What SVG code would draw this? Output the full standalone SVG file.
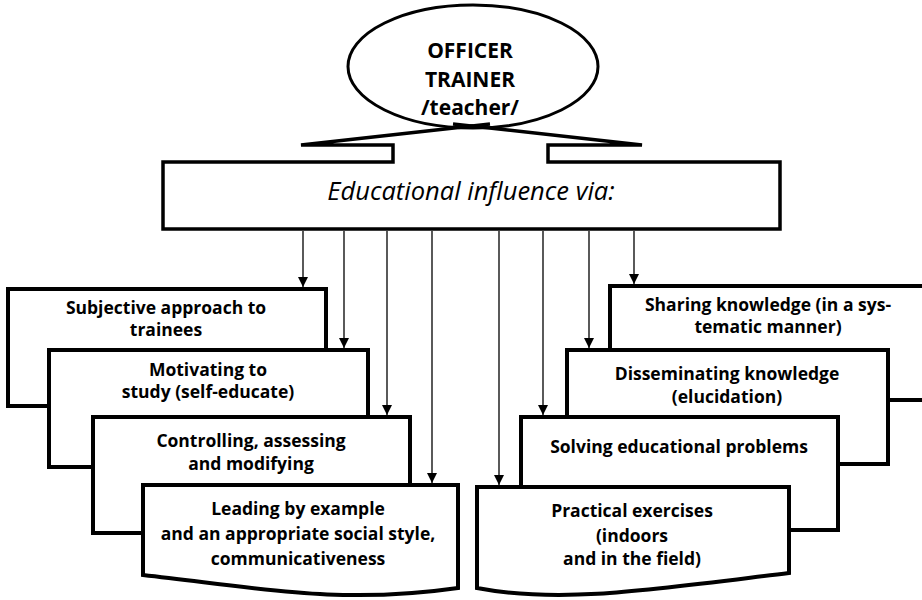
<svg xmlns="http://www.w3.org/2000/svg" width="922" height="600" viewBox="0 0 922 600">
  <defs>
    <marker id="arrow" viewBox="0 0 10 10" refX="10" refY="5" markerWidth="10" markerHeight="10" markerUnits="userSpaceOnUse" orient="auto">
      <path d="M0,0 L10,5 L0,10 Z" fill="#000"/>
    </marker>
    <style>
      .box { fill: #fff; stroke: #000; stroke-width: 4; stroke-linejoin: miter; }
      .outline { fill: none; stroke: #000; stroke-width: 3.5; stroke-linejoin: miter; }
      .conn { stroke: #000; stroke-width: 1.3; fill: none; marker-end: url(#arrow); }
      .lbl { font-family: "Open Sans", Lato, "Liberation Sans", sans-serif; font-weight: bold; font-size: 17.5px; fill: #000; text-anchor: middle; }
      .head { font-family: "Open Sans", Lato, "Liberation Sans", sans-serif; font-weight: bold; font-size: 21px; fill: #000; text-anchor: middle; }
      .via { font-family: "Open Sans", Lato, "Liberation Sans", sans-serif; font-style: italic; font-size: 25.5px; fill: #000; text-anchor: middle; }
    </style>
  </defs>
  <rect width="922" height="600" fill="#fff"/>

  <!-- callout: trainer ellipse with wedge onto the influence bar -->
  <g id="trainer">
    <path class="outline" d="M490,124 L301,145 H393 V162 H163 V229 H780 V162 H548 V145 H642 L453,124"/>
    <ellipse cx="473" cy="66.5" rx="125" ry="61.5" fill="none" stroke="#000" stroke-width="3"/>
    <text class="head" x="470" y="58">OFFICER</text>
    <text class="head" x="470" y="87">TRAINER</text>
    <text class="head" x="470" y="115">/teacher/</text>
  </g>

  <g id="influence">
    <text class="via" x="471" y="200">Educational influence via:</text>
  </g>

  <!-- left stack -->
  <g id="subjective">
    <rect class="box" x="8" y="289" width="318" height="117"/>
    <text class="lbl" x="166" y="314">Subjective approach to</text>
    <text class="lbl" x="166" y="336">trainees</text>
  </g>
  <g id="motivating">
    <rect class="box" x="49" y="350" width="319" height="117"/>
    <text class="lbl" x="208" y="376">Motivating to</text>
    <text class="lbl" x="208" y="398">study (self-educate)</text>
  </g>
  <g id="controlling">
    <rect class="box" x="93" y="417" width="317" height="116"/>
    <text class="lbl" x="251" y="447">Controlling, assessing</text>
    <text class="lbl" x="251" y="470">and modifying</text>
  </g>
  <g id="leading">
    <path class="box" d="M143,485 H458 V588 C340,605 260,588 143,575 Z"/>
    <text class="lbl" x="298" y="515">Leading by example</text>
    <text class="lbl" x="298" y="540">and an appropriate social style,</text>
    <text class="lbl" x="298" y="565">communicativeness</text>
  </g>

  <!-- right stack -->
  <g id="sharing">
    <rect class="box" x="610" y="286" width="330" height="114"/>
    <text class="lbl" x="768" y="311">Sharing knowledge (in a sys-</text>
    <text class="lbl" x="768" y="333">tematic manner)</text>
  </g>
  <g id="disseminating">
    <rect class="box" x="567" y="350" width="321" height="114"/>
    <text class="lbl" x="727" y="380">Disseminating knowledge</text>
    <text class="lbl" x="727" y="403">(elucidation)</text>
  </g>
  <g id="solving">
    <rect class="box" x="521" y="417" width="317" height="113"/>
    <text class="lbl" x="679" y="453">Solving educational problems</text>
  </g>
  <g id="practical">
    <path class="box" d="M477,487 H789 V573 C650,590 560,604 477,588 Z"/>
    <text class="lbl" x="632" y="517">Practical exercises</text>
    <text class="lbl" x="632" y="542">(indoors</text>
    <text class="lbl" x="632" y="565">and in the field)</text>
  </g>

  <!-- connectors from the influence bar -->
  <g id="connectors">
    <line class="conn" x1="303" y1="231" x2="303" y2="287"/>
    <line class="conn" x1="344" y1="231" x2="344" y2="348"/>
    <line class="conn" x1="387" y1="231" x2="387" y2="415"/>
    <line class="conn" x1="432" y1="231" x2="432" y2="483"/>
    <line class="conn" x1="499" y1="231" x2="499" y2="485"/>
    <line class="conn" x1="543" y1="231" x2="543" y2="415"/>
    <line class="conn" x1="589" y1="231" x2="589" y2="348"/>
    <line class="conn" x1="634" y1="231" x2="634" y2="284"/>
  </g>
</svg>
